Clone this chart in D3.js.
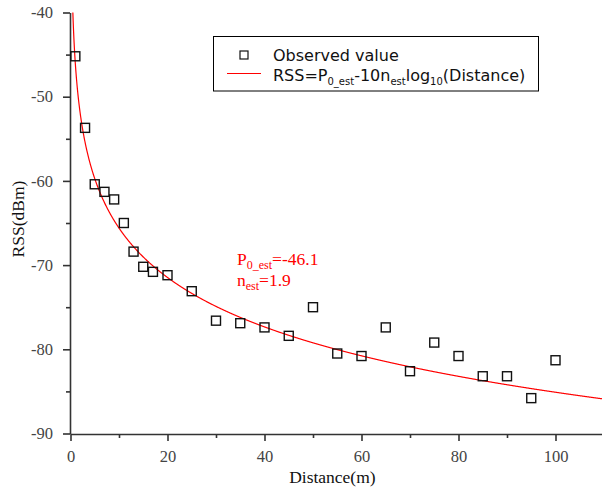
<!DOCTYPE html>
<html>
<head>
<meta charset="utf-8">
<script src="https://cdn.jsdelivr.net/npm/d3@7"></script>
<style>
  html, body { margin: 0; padding: 0; background: #fff; }
  svg { display: block; }
</style>
</head>
<body>
<svg id="chart" width="602" height="493"></svg>
<script>
// ---- data ----
const distances = [1, 3, 5, 7, 9, 11, 13, 15, 17, 20, 25, 30, 35, 40, 45, 50, 55, 60, 65, 70, 75, 80, 85, 90, 95, 100];
const rssObserved = [-45.2, -53.7, -60.4, -61.3, -62.2, -65.0, -68.4, -70.2, -70.8, -71.2, -73.1,
                     -76.6, -76.9, -77.4, -78.4, -75.0, -80.5, -80.8, -77.4, -82.6, -79.2, -80.8,
                     -83.2, -83.2, -85.8, -81.3];
const fitP0 = -46.1;
const fitN = 1.95;
const xMajorTicks = [0, 20, 40, 60, 80, 100];
const xMinorTicks = [10, 30, 50, 70, 90];
const yMajorTicks = [-40, -50, -60, -70, -80, -90];
const yMinorTicks = [-45, -55, -65, -75, -85];
const fitDistances = d3.range(0.45, 110.01, 0.05);

// ---- layout ----
const svg = d3.select("#chart");
const x = d3.scaleLinear().domain([0, 110]).range([70.5, 604]);
const y = d3.scaleLinear().domain([-90, -40]).range([433.5, 12.5]);
const axisColor = "#333";
const serif = "'Liberation Serif', 'Times New Roman', serif";
const sans = "'DejaVu Sans', sans-serif";
const fmt = d => String(d);

svg.append("defs").append("clipPath").attr("id", "clip")
  .append("rect").attr("x", 70).attr("y", y(-40)).attr("width", 540).attr("height", y(-90) - y(-40) + 1);

// y axis
svg.append("g").attr("transform", "translate(70,0)")
  .call(d3.axisLeft(y).tickValues(yMajorTicks).tickSize(7).tickSizeOuter(0).tickPadding(10).tickFormat(fmt));
svg.append("g").attr("transform", "translate(70,0)")
  .call(d3.axisLeft(y).tickValues(yMinorTicks).tickSize(4).tickSizeOuter(0).tickFormat(""))
  .call(g => g.select(".domain").remove());

// x axis
svg.append("g").attr("transform", "translate(0,434)")
  .call(d3.axisBottom(x).tickValues(xMajorTicks).tickSize(7).tickSizeOuter(0).tickPadding(9).tickFormat(fmt));
svg.append("g").attr("transform", "translate(0,434)")
  .call(d3.axisBottom(x).tickValues(xMinorTicks).tickSize(4).tickSizeOuter(0).tickFormat(""))
  .call(g => g.select(".domain").remove());

svg.selectAll(".domain, .tick line").attr("stroke", axisColor).attr("stroke-width", 1.6);
svg.selectAll(".tick text").attr("fill", "#444").style("font-family", serif).style("font-size", "16.5px");

// axis titles
svg.append("text").attr("x", x(54)).attr("y", 483).attr("text-anchor", "middle")
  .style("font-family", serif).style("font-size", "17.5px").attr("fill", "#111").text("Distance(m)");
svg.append("text").attr("transform", "translate(24,219) rotate(-90)").attr("text-anchor", "middle")
  .style("font-family", serif).style("font-size", "17.5px").attr("fill", "#111").text("RSS(dBm)");

// fit curve
const line = d3.line().x(d => x(d)).y(d => y(fitP0 - 10 * fitN * Math.log10(d)));
svg.append("path").datum(fitDistances).attr("clip-path", "url(#clip)")
  .attr("d", line).attr("fill", "none").attr("stroke", "#f00").attr("stroke-width", 1.2);

// observed points
const sq = 9;
svg.append("g").selectAll("rect").data(distances).join("rect")
  .attr("x", (d) => x(d) - sq / 2)
  .attr("y", (d, i) => y(rssObserved[i]) - sq / 2)
  .attr("width", sq).attr("height", sq)
  .attr("fill", "none").attr("stroke", "#111").attr("stroke-width", 1.4);

// annotation
const ann = svg.append("g").attr("fill", "#f00").style("font-family", serif).style("font-size", "17.5px");
const a1 = ann.append("text").attr("x", 237).attr("y", 265);
a1.append("tspan").text("P");
a1.append("tspan").attr("dy", 4).style("font-size", "12px").text("0_est");
a1.append("tspan").attr("dy", -4).text("=-46.1");
const a2 = ann.append("text").attr("x", 237).attr("y", 286);
a2.append("tspan").text("n");
a2.append("tspan").attr("dy", 4).style("font-size", "12px").text("est");
a2.append("tspan").attr("dy", -4).text("=1.9");

// legend
const lg = svg.append("g");
lg.append("rect").attr("x", 213.5).attr("y", 36.5).attr("width", 325).attr("height", 54.5)
  .attr("fill", "#fff").attr("stroke", "#000").attr("stroke-width", 1);
lg.append("rect").attr("x", 240).attr("y", 51).attr("width", 8).attr("height", 8)
  .attr("fill", "none").attr("stroke", "#111").attr("stroke-width", 1.2);
lg.append("line").attr("x1", 227).attr("x2", 261).attr("y1", 73.5).attr("y2", 73.5)
  .attr("stroke", "#f00").attr("stroke-width", 1.2);
const lt = lg.append("g").style("font-family", sans).style("font-size", "16px").attr("fill", "#111");
lt.append("text").attr("x", 273).attr("y", 61).text("Observed value");
const l2 = lt.append("text").attr("x", 273).attr("y", 81);
l2.append("tspan").text("RSS=P");
l2.append("tspan").attr("dy", 4).style("font-size", "10px").text("0_est");
l2.append("tspan").attr("dy", -4).text("-10n");
l2.append("tspan").attr("dy", 4).style("font-size", "10px").text("est");
l2.append("tspan").attr("dy", -4).text("log");
l2.append("tspan").attr("dy", 4).style("font-size", "10px").text("10");
l2.append("tspan").attr("dy", -4).text("(Distance)");
</script>
</body>
</html>
